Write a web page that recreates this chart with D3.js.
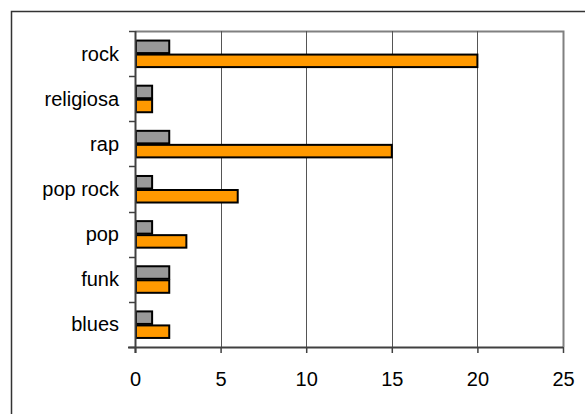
<!DOCTYPE html>
<html>
<head>
<meta charset="utf-8">
<script src="https://cdn.jsdelivr.net/npm/d3@7"></script>
<style>
  html, body { margin: 0; padding: 0; background: #fff; }
  svg { display: block; }
  text { font-family: "Liberation Sans", Arial, sans-serif; fill: #000; }
</style>
</head>
<body>
<svg id="chart" width="585" height="414"></svg>
<script>
// Music genres, listed from top to bottom
const categories = ["rock", "religiosa", "rap", "pop rock", "pop", "funk", "blues"];
const seriesNames = ["grupo A", "grupo B"];
const seriesA = [2, 1, 2, 1, 1, 2, 1];
const seriesB = [20, 1, 15, 6, 3, 2, 2];
const xTicks = [0, 5, 10, 15, 20, 25];
const colors = ["#999999", "#FF9900"];

const svg = d3.select("#chart");
const plot = { left: 135, top: 31, right: 563, bottom: 347 };

// outer frame of the chart object
svg.append("rect")
  .attr("x", 11.5).attr("y", 11.5)
  .attr("width", 600).attr("height", 500)
  .attr("fill", "none").attr("stroke", "#333").attr("stroke-width", 1.5);

const x = d3.scaleLinear().domain([0, 25]).range([plot.left, plot.right]);
const y0 = d3.scaleBand().domain(categories).range([plot.top, plot.bottom]).padding(0);
const y1 = d3.scaleBand().domain(seriesNames).range([0, y0.bandwidth()])
  .paddingInner(0).paddingOuter(0.61);

// plot area frame (top and right edges)
svg.append("path")
  .attr("d", `M${plot.left},${plot.top + 0.5}H${plot.right + 0.5}V${plot.bottom}`)
  .attr("fill", "none").attr("stroke", "#808080").attr("stroke-width", 2);

// vertical gridlines
svg.append("g").selectAll("line")
  .data(xTicks.filter(d => d > 0 && d < 25))
  .join("line")
  .attr("x1", d => Math.round(x(d)) + 0.5).attr("x2", d => Math.round(x(d)) + 0.5)
  .attr("y1", plot.top).attr("y2", plot.bottom)
  .attr("stroke", "#555").attr("stroke-width", 1);

// bars
const rows = categories.map((c, i) => ({ cat: c, vals: [seriesA[i], seriesB[i]] }));
const g = svg.append("g");
rows.forEach(r => {
  r.vals.forEach((v, j) => {
    const top = y0(r.cat) + y1(seriesNames[j]);
    g.append("rect")
      .attr("x", x(0) + 1)
      .attr("y", top + 1)
      .attr("width", x(v) - x(0) - 1)
      .attr("height", y1.bandwidth() - 1.5)
      .attr("fill", colors[j])
      .attr("stroke", "#000").attr("stroke-width", 2);
  });
});

// x axis
const xAxis = d3.axisBottom(x).tickValues(xTicks).tickSize(6).tickPadding(19);
const gx = svg.append("g").attr("transform", `translate(0,${plot.bottom})`).call(xAxis);
gx.select(".domain").attr("d", `M${plot.left - 7},0.5H${plot.right}`)
  .attr("stroke", "#404040").attr("stroke-width", 2);
gx.selectAll(".tick line").attr("stroke", "#404040").attr("stroke-width", 1.5);
gx.selectAll(".tick text").attr("font-size", 20).attr("font-family", "Liberation Sans, Arial, sans-serif").attr("fill", "#000");

// y axis: ticks mark the category boundaries
const yAxis = svg.append("g");
yAxis.append("line")
  .attr("x1", plot.left + 0.5).attr("x2", plot.left + 0.5)
  .attr("y1", plot.top).attr("y2", plot.bottom + 6)
  .attr("stroke", "#404040").attr("stroke-width", 2);
const bounds = categories.map(c => y0(c)).concat([plot.bottom]);
yAxis.selectAll("line.tk").data(bounds).join("line")
  .attr("class", "tk")
  .attr("x1", plot.left - 6).attr("x2", plot.left)
  .attr("y1", d => Math.round(d) + 0.5).attr("y2", d => Math.round(d) + 0.5)
  .attr("stroke", "#404040").attr("stroke-width", 1.5);
yAxis.selectAll("text").data(categories).join("text")
  .attr("x", plot.left - 16)
  .attr("y", d => y0(d) + y0.bandwidth() / 2)
  .attr("dy", "0.35em")
  .attr("text-anchor", "end")
  .attr("font-size", 20)
  .text(d => d);
</script>
</body>
</html>
